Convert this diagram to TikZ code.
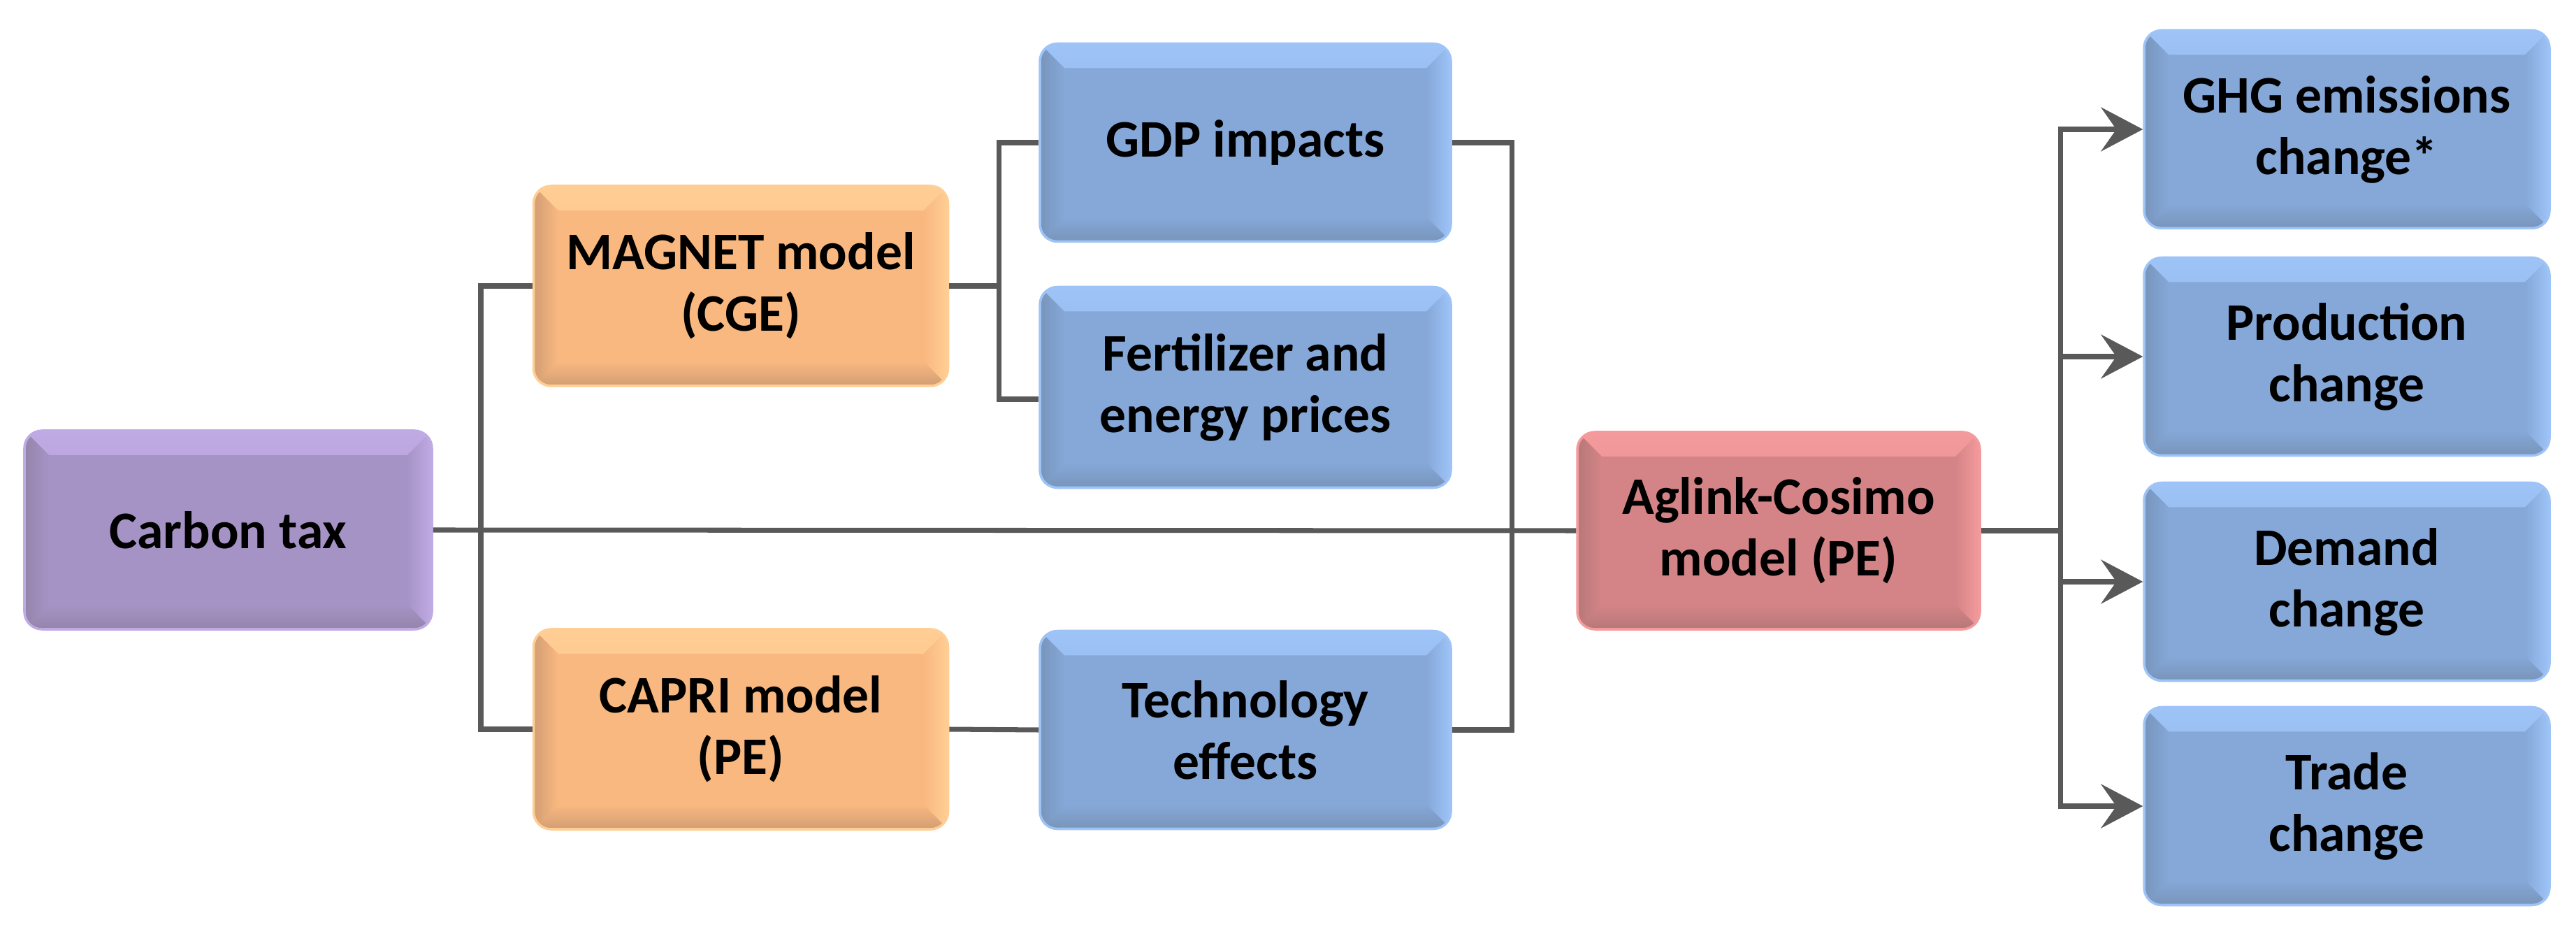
\documentclass[tikz,border=0pt]{standalone}
\usepackage{fontspec}
\setmainfont{Carlito}
\usetikzlibrary{arrows.meta}
\definecolor{taxfill}{RGB}{166,147,198}
\definecolor{taxlight}{RGB}{192,170,228}
\definecolor{taxdark}{RGB}{148,132,170}
\definecolor{modfill}{RGB}{249,184,128}
\definecolor{modlight}{RGB}{255,206,148}
\definecolor{moddark}{RGB}{210,158,116}
\definecolor{agfill}{RGB}{212,132,134}
\definecolor{aglight}{RGB}{244,154,156}
\definecolor{agdark}{RGB}{182,120,120}
\definecolor{resfill}{RGB}{133,168,216}
\definecolor{reslight}{RGB}{158,195,247}
\definecolor{resdark}{RGB}{120,148,186}
\definecolor{linkgray}{RGB}{89,89,89}
\begin{document}
\begin{tikzpicture}[
  blk/.style n args={3}{rounded corners=2.5mm, fill=#1, draw=#2, line width=1pt,
    minimum width=5.85cm, minimum height=2.84cm, inner sep=0pt, align=center,
    font=\fontsize{21.5}{25}\selectfont\bfseries,
    path picture={
      \shade[top color=#2, bottom color=#1, sharp corners] (path picture bounding box.north west) -- (path picture bounding box.north east)
        -- ([xshift=-3.5mm,yshift=-3.5mm]path picture bounding box.north east) -- ([xshift=3.5mm,yshift=-3.5mm]path picture bounding box.north west) -- cycle;
      \shade[left color=#1, right color=#2, sharp corners] (path picture bounding box.north east) -- (path picture bounding box.south east)
        -- ([xshift=-3.5mm,yshift=3.5mm]path picture bounding box.south east) -- ([xshift=-3.5mm,yshift=-3.5mm]path picture bounding box.north east) -- cycle;
      \shade[left color=#3, right color=#1, sharp corners] (path picture bounding box.north west) -- (path picture bounding box.south west)
        -- ([xshift=3.5mm,yshift=3.5mm]path picture bounding box.south west) -- ([xshift=3.5mm,yshift=-3.5mm]path picture bounding box.north west) -- cycle;
      \shade[top color=#1, bottom color=#3, sharp corners] (path picture bounding box.south west) -- (path picture bounding box.south east)
        -- ([xshift=-3.5mm,yshift=3.5mm]path picture bounding box.south east) -- ([xshift=3.5mm,yshift=3.5mm]path picture bounding box.south west) -- cycle;
    }},
  taxbox/.style={blk={taxfill}{taxlight}{taxdark}},
  modbox/.style={blk={modfill}{modlight}{moddark}},
  agbox/.style={blk={agfill}{aglight}{agdark}},
  resbox/.style={blk={resfill}{reslight}{resdark}},
  link/.style={draw=linkgray, line width=2pt},
  linkarrow/.style={link, -{Stealth[length=6mm, width=6.3mm, inset=2.2mm]}}
]
\useasboundingbox (0,0) rectangle (36.86,13.42);
\node[taxbox, minimum width=5.83cm] (carbon) at (3.265,5.84){Carbon tax};
\node[modbox, minimum width=5.93cm, minimum height=2.86cm] (magnet) at (10.60,9.33){MAGNET model\\(CGE)};
\node[modbox, minimum width=5.93cm, minimum height=2.86cm] (capri) at (10.60,2.99){CAPRI model\\(PE)};
\node[resbox, minimum width=5.88cm, minimum height=2.83cm] (gdp) at (17.82,11.38){GDP impacts};
\node[resbox, minimum width=5.88cm, minimum height=2.87cm] (fert) at (17.82,7.88){Fertilizer and\\energy prices};
\node[resbox, minimum width=5.88cm, minimum height=2.83cm] (tech) at (17.82,2.98){Technology\\effects};
\node[agbox, minimum width=5.76cm, minimum height=2.82cm] (aglink) at (25.45,5.83){Aglink-Cosimo\\model (PE)};
\node[resbox, minimum width=5.80cm, minimum height=2.83cm] (ghg) at (33.58,11.57){GHG emissions\\change*};
\node[resbox, minimum width=5.80cm, minimum height=2.83cm] (prod) at (33.58,8.32){Production\\change};
\node[resbox, minimum width=5.80cm, minimum height=2.83cm] (dem) at (33.58,5.10){Demand\\change};
\node[resbox, minimum width=5.80cm, minimum height=2.83cm] (trade) at (33.58,1.89){Trade\\change};
\coordinate (jc) at (6.88,5.84);
\coordinate (jm) at (14.29,9.33);
\coordinate (jr) at (21.63,5.84);
\coordinate (jo) at (29.48,5.83);
\draw[link](carbon.east) -- (aglink.west);
\draw[link](magnet.west) -| (jc) |- (capri.west);
\draw[link](magnet.east) -- (jm) |- (gdp.west);
\draw[link](jm) |- ([yshift=-0.17cm]fert.west);
\draw[link](capri.east) -- (tech.west);
\draw[link](gdp.east) -| (jr) |- (tech.east);
\draw[link](aglink.east) -- (jo);
\draw[linkarrow](jo) |- (ghg.west);
\draw[linkarrow](jo) |- (prod.west);
\draw[linkarrow](jo) |- (dem.west);
\draw[linkarrow](jo) |- (trade.west);
\end{tikzpicture}
\end{document}
